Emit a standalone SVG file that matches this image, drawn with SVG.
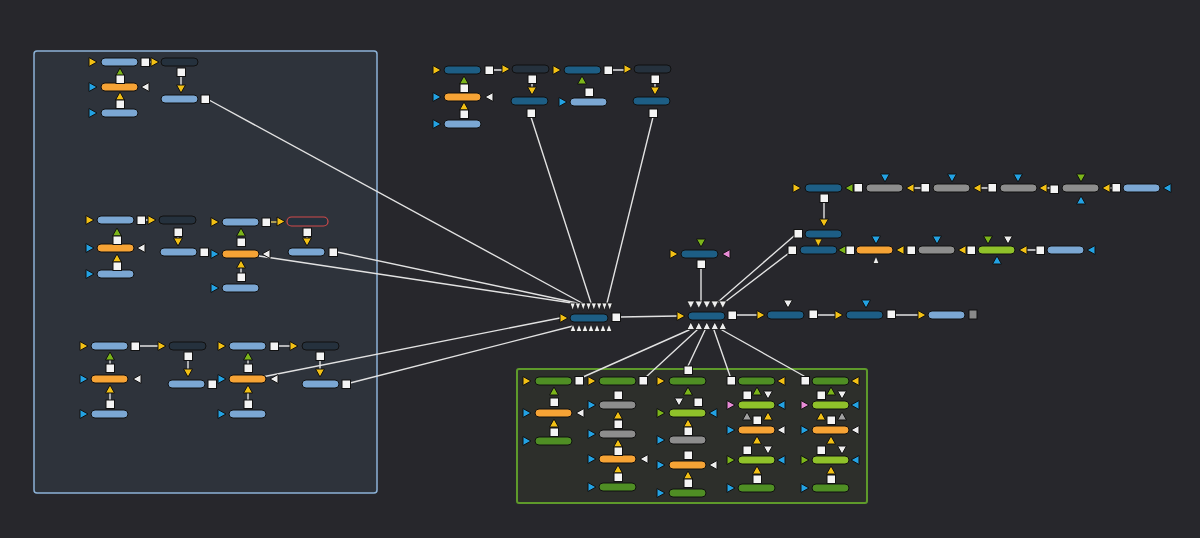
<svg xmlns="http://www.w3.org/2000/svg" xmlns:xlink="http://www.w3.org/1999/xlink" width="1200" height="538" viewBox="0 0 1200 538">
<style>
.lb{fill:#7ba7d3}.or{fill:#f6a335}.dk{fill:#25313d}.tl{fill:#1d5e85}.gy{fill:#8d8d8d}.gn{fill:#4f8e24}.bg{fill:#8fc12a}
.y{fill:#f2c014}.b{fill:#23a2e3}.g{fill:#7cb51a}.w{fill:#eeeeee}.pk{fill:#e88bd6}.gt{fill:#a0a0a0}
#conn line{stroke:#e2e2e2;stroke-width:1.4;stroke-linecap:round}
</style>
<defs>
<rect id="pl" width="37" height="8" rx="4" stroke="#111" stroke-width="1"/>
<rect id="sq" width="8.5" height="8.5" fill="#f4f4f4" stroke="#111" stroke-width="1"/>
<polygon id="tr" points="0,0 8,4.5 0,9" stroke="#111" stroke-width="1" stroke-linejoin="round"/>
<polygon id="tlf" points="8,0 0,4.5 8,9" stroke="#111" stroke-width="1" stroke-linejoin="round"/>
<polygon id="tu" points="0,8 4.5,0 9,8" stroke="#111" stroke-width="1" stroke-linejoin="round"/>
<polygon id="td" points="0,0 9,0 4.5,8" stroke="#111" stroke-width="1" stroke-linejoin="round"/>
<polygon id="tds" points="0,0 5.3,0 2.65,7.5" stroke="#111" stroke-width="0.8" stroke-linejoin="round"/>
<polygon id="tus" points="0,7.5 3,0 6,7.5" stroke="#111" stroke-width="0.8" stroke-linejoin="round"/>
<polygon id="td7" points="0,0 7.6,0 3.8,7.5" stroke="#111" stroke-width="0.8" stroke-linejoin="round"/>
<polygon id="tu7" points="0,7.5 3.8,0 7.6,7.5" stroke="#111" stroke-width="0.8" stroke-linejoin="round"/>
</defs>
<rect width="1200" height="538" fill="#27272c"/>
<rect id="groupA" x="34" y="51" width="343" height="442" rx="3" fill="#2e333b" stroke="#8db3d8" stroke-width="1.5"/>
<rect id="groupB" x="517" y="369" width="350" height="134" rx="2" fill="#2d2f2b" stroke="#5e9a2b" stroke-width="2"/>

<g id="conn">
<line x1="149" y1="62" x2="151" y2="62"/><line x1="181" y1="76" x2="181" y2="85"/>
<line x1="145" y1="220" x2="148" y2="220"/><line x1="270" y1="222" x2="277" y2="222" style="stroke:#d8c060"/><line x1="178" y1="236" x2="178" y2="238"/><line x1="307" y1="236" x2="307" y2="238"/><line x1="241" y1="268" x2="241" y2="273"/>
<line x1="139" y1="346" x2="158" y2="346"/><line x1="278" y1="346" x2="290" y2="346"/><line x1="188" y1="360" x2="188" y2="369"/><line x1="320" y1="360" x2="320" y2="369"/><line x1="110" y1="393" x2="110" y2="400"/><line x1="248" y1="393" x2="248" y2="400"/><line x1="110" y1="360" x2="110" y2="364"/><line x1="248" y1="360" x2="248" y2="364"/>
<line x1="493" y1="70" x2="502" y2="70"/><line x1="612" y1="70" x2="624" y2="70"/><line x1="532" y1="83" x2="532" y2="87"/><line x1="655" y1="83" x2="655" y2="87"/>
<line x1="209" y1="100" x2="582" y2="303"/>
<line x1="337" y1="252" x2="577" y2="303"/>
<line x1="259" y1="256" x2="572" y2="303"/>
<line x1="531" y1="117" x2="591" y2="303"/>
<line x1="653" y1="117" x2="607" y2="303"/>
<line x1="262" y1="377" x2="560" y2="318"/>
<line x1="350" y1="383" x2="573" y2="326"/>
<line x1="620" y1="317" x2="677" y2="316"/>
<line x1="701" y1="268" x2="701" y2="301"/>
<line x1="736" y1="315" x2="757" y2="315"/><line x1="817" y1="315" x2="835" y2="315"/><line x1="895" y1="315" x2="918" y2="315"/>
<line x1="824" y1="202" x2="824" y2="219"/><line x1="913" y1="188" x2="921" y2="188"/><line x1="980" y1="188" x2="988" y2="188"/><line x1="1047" y1="188" x2="1050" y2="188"/><line x1="1110" y1="188" x2="1112" y2="188"/><line x1="1027" y1="250" x2="1036" y2="250"/>
<line x1="794" y1="236" x2="718" y2="302"/>
<line x1="789" y1="253" x2="725" y2="302"/>
<line x1="689" y1="330" x2="583" y2="377"/>
<line x1="697" y1="330" x2="646" y2="377"/>
<line x1="705" y1="330" x2="688" y2="366"/>
<line x1="714" y1="330" x2="730" y2="376"/>
<line x1="722" y1="330" x2="804" y2="376"/>
</g>

<g id="n1"><use href="#pl" x="101" y="58" class="lb"/><use href="#tr" x="89" y="57.5" class="y"/><use href="#tu" x="115.5" y="68" class="g"/><use href="#sq" x="141" y="58"/></g>
<g id="n2"><use href="#pl" x="161" y="58" class="dk"/><use href="#tr" x="151" y="57.5" class="y"/><use href="#sq" x="177" y="68"/></g>
<g id="n3"><use href="#pl" x="101" y="83" class="or"/><use href="#tr" x="89" y="82.5" class="b"/><use href="#tlf" x="141" y="82.5" class="w"/><use href="#sq" x="116" y="75"/><use href="#tu" x="115.5" y="92" class="y"/></g>
<g id="n4"><use href="#pl" x="101" y="109" class="lb"/><use href="#tr" x="89" y="108.5" class="b"/><use href="#sq" x="116" y="100"/></g>
<g id="n5"><use href="#pl" x="161" y="95" class="lb"/><use href="#td" x="176.5" y="85" class="y"/><use href="#sq" x="201" y="95"/></g>

<g id="n6"><use href="#pl" x="97" y="216" class="lb"/><use href="#tr" x="86" y="215.5" class="y"/><use href="#tu" x="112.5" y="228" class="g"/><use href="#sq" x="137" y="216"/></g>
<g id="n7"><use href="#pl" x="159" y="216" class="dk"/><use href="#tr" x="148" y="215.5" class="y"/><use href="#sq" x="174" y="228"/></g>
<g id="n8"><use href="#pl" x="97" y="244" class="or"/><use href="#tr" x="86" y="243.5" class="b"/><use href="#tlf" x="137" y="243.5" class="w"/><use href="#sq" x="113" y="236"/><use href="#tu" x="112.5" y="254" class="y"/></g>
<g id="n9"><use href="#pl" x="97" y="270" class="lb"/><use href="#tr" x="86" y="269.5" class="b"/><use href="#sq" x="113" y="262"/></g>
<g id="n10"><use href="#pl" x="160" y="248" class="lb"/><use href="#td" x="173.5" y="238" class="y"/><use href="#sq" x="200" y="248"/></g>
<g id="n11"><use href="#pl" x="222" y="218" class="lb"/><use href="#tr" x="211" y="217.5" class="y"/><use href="#tu" x="236.5" y="228" class="g"/><use href="#sq" x="262" y="218"/></g>
<g id="n12"><rect x="287" y="217" width="41" height="9" rx="4.5" class="dk" stroke="#d24a4a" stroke-width="1.2"/><use href="#tr" x="277" y="217" class="y"/><use href="#sq" x="303" y="228"/></g>
<g id="n13"><use href="#pl" x="222" y="250" class="or"/><use href="#tr" x="211" y="249.5" class="b"/><use href="#tlf" x="262" y="249.5" class="w"/><use href="#sq" x="237" y="238"/><use href="#tu" x="236.5" y="260" class="y"/></g>
<g id="n14"><use href="#pl" x="222" y="284" class="lb"/><use href="#tr" x="211" y="283.5" class="b"/><use href="#sq" x="237" y="273"/></g>
<g id="n15"><use href="#pl" x="288" y="248" class="lb"/><use href="#td" x="302.5" y="238" class="y"/><use href="#sq" x="329" y="248"/></g>

<g id="n16"><use href="#pl" x="91" y="342" class="lb"/><use href="#tr" x="80" y="341.5" class="y"/><use href="#tu" x="105.5" y="352" class="g"/><use href="#sq" x="131" y="342"/></g>
<g id="n17"><use href="#pl" x="169" y="342" class="dk"/><use href="#tr" x="158" y="341.5" class="y"/><use href="#sq" x="184" y="352"/></g>
<g id="n18"><use href="#pl" x="91" y="375" class="or"/><use href="#tr" x="80" y="374.5" class="b"/><use href="#tlf" x="133" y="374.5" class="w"/><use href="#sq" x="106" y="364"/><use href="#tu" x="105.5" y="385" class="y"/></g>
<g id="n19"><use href="#pl" x="91" y="410" class="lb"/><use href="#tr" x="80" y="409.5" class="b"/><use href="#sq" x="106" y="400"/></g>
<g id="n20"><use href="#pl" x="168" y="380" class="lb"/><use href="#td" x="183.5" y="369" class="y"/><use href="#sq" x="208" y="380"/></g>
<g id="n21"><use href="#pl" x="229" y="342" class="lb"/><use href="#tr" x="218" y="341.5" class="y"/><use href="#tu" x="243.5" y="352" class="g"/><use href="#sq" x="270" y="342"/></g>
<g id="n22"><use href="#pl" x="302" y="342" class="dk"/><use href="#tr" x="290" y="341.5" class="y"/><use href="#sq" x="316" y="352"/></g>
<g id="n23"><use href="#pl" x="229" y="375" class="or"/><use href="#tr" x="218" y="374.5" class="b"/><use href="#tlf" x="270" y="374.5" class="w"/><use href="#sq" x="244" y="364"/><use href="#tu" x="243.5" y="385" class="y"/></g>
<g id="n24"><use href="#pl" x="229" y="410" class="lb"/><use href="#tr" x="218" y="409.5" class="b"/><use href="#sq" x="244" y="400"/></g>
<g id="n25"><use href="#pl" x="302" y="380" class="lb"/><use href="#td" x="315.5" y="369" class="y"/><use href="#sq" x="342" y="380"/></g>

<g id="n26"><use href="#pl" x="444" y="66" class="tl"/><use href="#tr" x="433" y="65.5" class="y"/><use href="#tu" x="459.5" y="76" class="g"/><use href="#sq" x="485" y="66"/></g>
<g id="n27"><use href="#pl" x="512" y="65" class="dk"/><use href="#tr" x="502" y="64.5" class="y"/><use href="#sq" x="528" y="75"/></g>
<g id="n28"><use href="#pl" x="444" y="93" class="or"/><use href="#tr" x="433" y="92.5" class="b"/><use href="#tlf" x="485" y="92.5" class="w"/><use href="#sq" x="460" y="84"/><use href="#tu" x="459.5" y="102" class="y"/></g>
<g id="n29"><use href="#pl" x="444" y="120" class="lb"/><use href="#tr" x="433" y="119.5" class="b"/><use href="#sq" x="460" y="110"/></g>
<g id="n30"><use href="#pl" x="511" y="97" class="tl"/><use href="#td" x="527.5" y="87" class="y"/><use href="#sq" x="527" y="109"/></g>
<g id="n31"><use href="#pl" x="564" y="66" class="tl"/><use href="#tr" x="553" y="65.5" class="y"/><use href="#tu" x="577.5" y="76" class="g"/><use href="#sq" x="604" y="66"/></g>
<g id="n32"><use href="#pl" x="634" y="65" class="dk"/><use href="#tr" x="624" y="64.5" class="y"/><use href="#sq" x="651" y="75"/></g>
<g id="n33"><use href="#pl" x="570" y="98" class="lb"/><use href="#tr" x="559" y="97.5" class="b"/><use href="#sq" x="585" y="88"/></g>
<g id="n34"><use href="#pl" x="633" y="97" class="tl"/><use href="#td" x="650.5" y="87" class="y"/><use href="#sq" x="649" y="109"/></g>

<g id="m1"><rect x="570" y="314" width="38" height="8" rx="4" class="tl" stroke="#111"/><use href="#tr" x="560" y="313.5" class="y"/><use href="#sq" x="612" y="313"/>
<use href="#tds" x="570" y="303" class="w"/><use href="#tds" x="575.3" y="303" class="w"/><use href="#tds" x="580.6" y="303" class="w"/><use href="#tds" x="585.9" y="303" class="w"/><use href="#tds" x="591.2" y="303" class="w"/><use href="#tds" x="596.5" y="303" class="w"/><use href="#tds" x="601.8" y="303" class="w"/><use href="#tds" x="607.1" y="303" class="w"/>
<use href="#tus" x="570" y="324" class="w"/><use href="#tus" x="576" y="324" class="w"/><use href="#tus" x="582" y="324" class="w"/><use href="#tus" x="588" y="324" class="w"/><use href="#tus" x="594" y="324" class="w"/><use href="#tus" x="600" y="324" class="w"/><use href="#tus" x="606" y="324" class="w"/></g>

<g id="m2"><rect x="688" y="312" width="37" height="8" rx="4" class="tl" stroke="#111"/><use href="#tr" x="677" y="311.5" class="y"/><use href="#sq" x="728" y="311"/>
<use href="#td7" x="687" y="301" class="w"/><use href="#td7" x="695" y="301" class="w"/><use href="#td7" x="703" y="301" class="w"/><use href="#td7" x="711" y="301" class="w"/><use href="#td7" x="719" y="301" class="w"/>
<use href="#tu7" x="687" y="322" class="w"/><use href="#tu7" x="695" y="322" class="w"/><use href="#tu7" x="703" y="322" class="w"/><use href="#tu7" x="711" y="322" class="w"/><use href="#tu7" x="719" y="322" class="w"/></g>
<g id="n35"><use href="#pl" x="681" y="250" class="tl"/><use href="#tr" x="670" y="249.5" class="y"/><use href="#tlf" x="722" y="249.5" class="pk"/><use href="#td" x="696.5" y="239" class="g"/><use href="#sq" x="697" y="260"/></g>

<g id="n36"><use href="#pl" x="767" y="311" class="tl"/><use href="#tr" x="757" y="310.5" class="y"/><use href="#td" x="783.5" y="300" class="w"/><use href="#sq" x="809" y="310"/></g>
<g id="n37"><use href="#pl" x="846" y="311" class="tl"/><use href="#tr" x="835" y="310.5" class="y"/><use href="#td" x="861.5" y="300" class="b"/><use href="#sq" x="887" y="310"/></g>
<g id="n38"><use href="#pl" x="928" y="311" class="lb"/><use href="#tr" x="918" y="310.5" class="y"/><rect x="969" y="310" width="8" height="9" fill="#8a8a8a" stroke="#111"/></g>

<g id="n39"><use href="#pl" x="805" y="184" class="tl"/><use href="#tr" x="793" y="183.5" class="y"/><use href="#tlf" x="845" y="183.5" class="g"/><use href="#sq" x="820" y="194"/></g>
<g id="n40"><use href="#pl" x="866" y="184" class="gy"/><use href="#td" x="880.5" y="174" class="b"/><use href="#tlf" x="906" y="183.5" class="y"/><use href="#sq" x="854" y="183.5"/></g>
<g id="n41"><use href="#pl" x="933" y="184" class="gy"/><use href="#td" x="947.5" y="174" class="b"/><use href="#tlf" x="973" y="183.5" class="y"/><use href="#sq" x="921" y="183.5"/></g>
<g id="n42"><use href="#pl" x="1000" y="184" class="gy"/><use href="#td" x="1013.5" y="174" class="b"/><use href="#tlf" x="1039" y="183.5" class="y"/><use href="#sq" x="988" y="183.5"/></g>
<g id="n43"><use href="#pl" x="1062" y="184" class="gy"/><use href="#td" x="1076.5" y="174" class="g"/><use href="#tu" x="1076.5" y="196" class="b"/><use href="#tlf" x="1102" y="183.5" class="y"/><use href="#sq" x="1050" y="185"/></g>
<g id="n44"><use href="#pl" x="1123" y="184" class="lb"/><use href="#tlf" x="1163" y="183.5" class="b"/><use href="#sq" x="1112" y="183.5"/></g>
<g id="n45"><use href="#pl" x="805" y="230" class="tl"/><use href="#td" x="819.5" y="219" class="y"/><use href="#sq" x="794" y="229.5"/></g>
<g id="n46"><use href="#pl" x="800" y="246" class="tl"/><use href="#td7" x="814.5" y="239" class="y"/><use href="#tlf" x="838" y="245.5" class="g"/><use href="#sq" x="788" y="246"/></g>
<g id="n47"><use href="#pl" x="856" y="246" class="or"/><use href="#td" x="871.5" y="236" class="b"/><use href="#tus" x="873" y="256" class="w"/><use href="#tlf" x="896" y="245.5" class="y"/><use href="#sq" x="846" y="246"/></g>
<g id="n48"><use href="#pl" x="918" y="246" class="gy"/><use href="#td" x="932.5" y="236" class="b"/><use href="#tlf" x="958" y="245.5" class="y"/><use href="#sq" x="907" y="246"/></g>
<g id="n49"><use href="#pl" x="978" y="246" class="bg"/><use href="#td" x="983.5" y="236" class="g"/><use href="#td" x="1003.5" y="236" class="w"/><use href="#tu" x="992.5" y="256" class="b"/><use href="#tlf" x="1019" y="245.5" class="y"/><use href="#sq" x="967" y="246"/></g>
<g id="n50"><use href="#pl" x="1047" y="246" class="lb"/><use href="#tlf" x="1087" y="245.5" class="b"/><use href="#sq" x="1036" y="246"/></g>

<g id="g1"><use href="#pl" x="535" y="377" class="gn"/><use href="#tr" x="523" y="376.5" class="y"/><use href="#tu" x="549.5" y="387" class="g"/><use href="#sq" x="575" y="376.5"/></g>
<g id="g2"><use href="#pl" x="535" y="409" class="or"/><use href="#tr" x="523" y="408.5" class="b"/><use href="#tlf" x="576" y="408.5" class="w"/><use href="#sq" x="550" y="398"/><use href="#tu" x="549.5" y="419" class="y"/></g>
<g id="g3"><use href="#pl" x="535" y="437" class="gn"/><use href="#tr" x="523" y="436.5" class="b"/><use href="#sq" x="550" y="428"/></g>
<g id="g4"><use href="#pl" x="599" y="377" class="gn"/><use href="#tr" x="588" y="376.5" class="y"/><use href="#sq" x="639" y="376.5"/></g>
<g id="g5"><use href="#pl" x="599" y="401" class="gy"/><use href="#tr" x="588" y="400.5" class="b"/><use href="#sq" x="614" y="391"/><use href="#tu" x="613.5" y="411" class="y"/></g>
<g id="g6"><use href="#pl" x="599" y="430" class="gy"/><use href="#tr" x="588" y="429.5" class="b"/><use href="#sq" x="614" y="420"/><use href="#tu" x="613.5" y="439" class="y"/></g>
<g id="g7"><use href="#pl" x="599" y="455" class="or"/><use href="#tr" x="588" y="454.5" class="b"/><use href="#tlf" x="640" y="454.5" class="w"/><use href="#sq" x="614" y="447"/><use href="#tu" x="613.5" y="465" class="y"/></g>
<g id="g8"><use href="#pl" x="599" y="483" class="gn"/><use href="#tr" x="588" y="482.5" class="b"/><use href="#sq" x="614" y="473"/></g>
<g id="g9"><use href="#pl" x="669" y="377" class="gn"/><use href="#tr" x="657" y="376.5" class="y"/><use href="#sq" x="684" y="366"/><use href="#tu" x="683.5" y="387" class="g"/></g>
<g id="g10"><use href="#pl" x="669" y="409" class="bg"/><use href="#tr" x="657" y="408.5" class="g"/><use href="#tlf" x="709" y="408.5" class="b"/><use href="#td" x="674.5" y="398" class="w"/><use href="#sq" x="694" y="398"/><use href="#tu" x="683.5" y="419" class="y"/></g>
<g id="g11"><use href="#pl" x="669" y="436" class="gy"/><use href="#tr" x="657" y="435.5" class="b"/><use href="#sq" x="684" y="427"/></g>
<g id="g12"><use href="#pl" x="669" y="461" class="or"/><use href="#tr" x="657" y="460.5" class="b"/><use href="#tlf" x="709" y="460.5" class="w"/><use href="#sq" x="684" y="451"/><use href="#tu" x="683.5" y="471" class="y"/></g>
<g id="g13"><use href="#pl" x="669" y="489" class="gn"/><use href="#tr" x="657" y="488.5" class="b"/><use href="#sq" x="684" y="479"/></g>
<g id="g14"><use href="#pl" x="738" y="377" class="gn"/><use href="#sq" x="727" y="376.5"/><use href="#tlf" x="777" y="376.5" class="y"/><use href="#tu" x="752.5" y="387" class="g"/></g>
<g id="g15"><use href="#pl" x="738" y="401" class="bg"/><use href="#tr" x="727" y="400.5" class="pk"/><use href="#tlf" x="777" y="400.5" class="b"/><use href="#sq" x="743" y="391"/><use href="#td" x="763.5" y="391" class="w"/><use href="#tu" x="742.5" y="412" class="gt"/><use href="#tu" x="763.5" y="412" class="y"/></g>
<g id="g16"><use href="#pl" x="738" y="426" class="or"/><use href="#tr" x="727" y="425.5" class="b"/><use href="#tlf" x="777" y="425.5" class="w"/><use href="#sq" x="753" y="416"/><use href="#tu" x="752.5" y="436" class="y"/></g>
<g id="g17"><use href="#pl" x="738" y="456" class="bg"/><use href="#tr" x="727" y="455.5" class="g"/><use href="#tlf" x="777" y="455.5" class="b"/><use href="#sq" x="743" y="446"/><use href="#td" x="763.5" y="446" class="w"/><use href="#tu" x="752.5" y="466" class="y"/></g>
<g id="g18"><use href="#pl" x="738" y="484" class="gn"/><use href="#tr" x="727" y="483.5" class="b"/><use href="#sq" x="753" y="475"/></g>
<g id="g19"><use href="#pl" x="812" y="377" class="gn"/><use href="#sq" x="801" y="376.5"/><use href="#tlf" x="851" y="376.5" class="y"/><use href="#tu" x="826.5" y="387" class="g"/></g>
<g id="g20"><use href="#pl" x="812" y="401" class="bg"/><use href="#tr" x="801" y="400.5" class="pk"/><use href="#tlf" x="851" y="400.5" class="b"/><use href="#sq" x="817" y="391"/><use href="#td" x="837.5" y="391" class="w"/><use href="#tu" x="816.5" y="412" class="y"/><use href="#tu" x="837.5" y="412" class="gt"/></g>
<g id="g21"><use href="#pl" x="812" y="426" class="or"/><use href="#tr" x="801" y="425.5" class="b"/><use href="#tlf" x="851" y="425.5" class="w"/><use href="#sq" x="827" y="416"/><use href="#tu" x="826.5" y="436" class="y"/></g>
<g id="g22"><use href="#pl" x="812" y="456" class="bg"/><use href="#tr" x="801" y="455.5" class="g"/><use href="#tlf" x="851" y="455.5" class="b"/><use href="#sq" x="817" y="446"/><use href="#td" x="837.5" y="446" class="w"/><use href="#tu" x="826.5" y="466" class="y"/></g>
<g id="g23"><use href="#pl" x="812" y="484" class="gn"/><use href="#tr" x="801" y="483.5" class="b"/><use href="#sq" x="827" y="475"/></g>
</svg>
